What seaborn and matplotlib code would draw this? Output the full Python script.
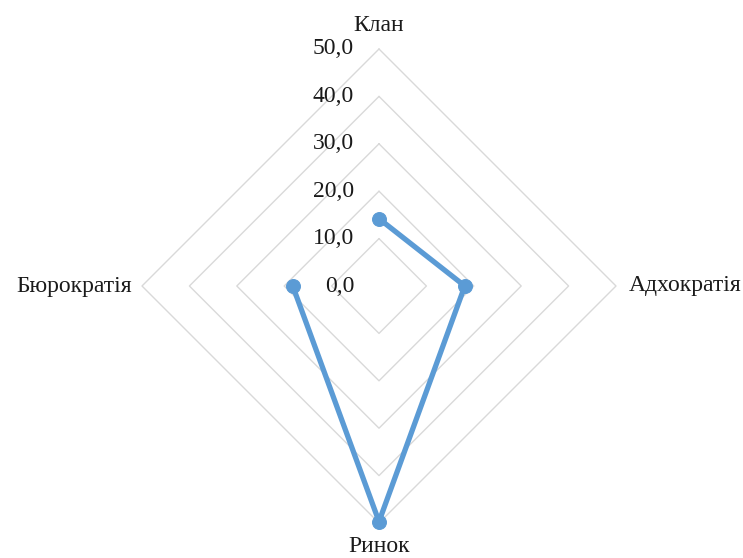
import numpy as np
import pandas as pd
import matplotlib
matplotlib.use("Agg")
import matplotlib.pyplot as plt
import seaborn as sns

# Culture profile scores per axis
categories = ["Клан", "Адхократія", "Ринок", "Бюрократія"]
scores = [14.2, 18.1, 49.7, 18.2]
ring_values = [10, 20, 30, 40, 50]
tick_values = [0, 10, 20, 30, 40, 50]
tick_labels = ["0,0", "10,0", "20,0", "30,0", "40,0", "50,0"]

sns.set_style("white")
plt.rcParams["font.family"] = ["Liberation Serif", "DejaVu Serif"]

line_color = "#5B9BD5"
grid_color = "#D9D9D9"
font_size = 17

angles = np.linspace(0, 2 * np.pi, len(categories), endpoint=False)

fig = plt.figure(figsize=(7.43, 5.58), dpi=100)
ax = fig.add_axes([142 / 743, 35 / 558, 474 / 743, 474 / 558], projection="polar")
ax.set_theta_offset(np.pi / 2)
ax.set_theta_direction(-1)
ax.set_ylim(0, 50)
ax.grid(False)
ax.spines["polar"].set_visible(False)
ax.set_xticks([])
ax.set_yticks([])

# Diamond-shaped grid rings (straight chords between the axes)
closed_angles = np.append(angles, angles[0])
for rv in ring_values:
    ax.plot(closed_angles, [rv] * len(closed_angles), color=grid_color,
            linewidth=1.0, zorder=1, clip_on=False)

# Data polygon
df = pd.DataFrame({
    "angle": np.append(angles, angles[0]),
    "score": scores + [scores[0]],
})
sns.lineplot(data=df, x="angle", y="score", sort=False, ax=ax,
             color=line_color, linewidth=3.8, marker="o", markersize=10,
             markeredgecolor=line_color, zorder=3, clip_on=False)
ax.set_xlabel("")
ax.set_ylabel("")

# Radial value labels along the top axis
for v, lab in zip(tick_values, tick_labels):
    ax.annotate(lab, xy=(0, v), xytext=(-18, 0), textcoords="offset points",
                ha="right", va="center", fontsize=font_size, color="#1a1a1a")

# Category labels around the chart
offsets = [(0, 17, "center", "center"), (9, 0, "left", "center"),
           (0, -17, "center", "center"), (-7, 0, "right", "center")]
for ang, name, (dx, dy, ha, va) in zip(angles, categories, offsets):
    ax.annotate(name, xy=(ang, 50), xytext=(dx, dy), textcoords="offset points",
                ha=ha, va=va, fontsize=font_size, color="#1a1a1a",
                annotation_clip=False)

fig.savefig("out.png", dpi=100, facecolor="white")
